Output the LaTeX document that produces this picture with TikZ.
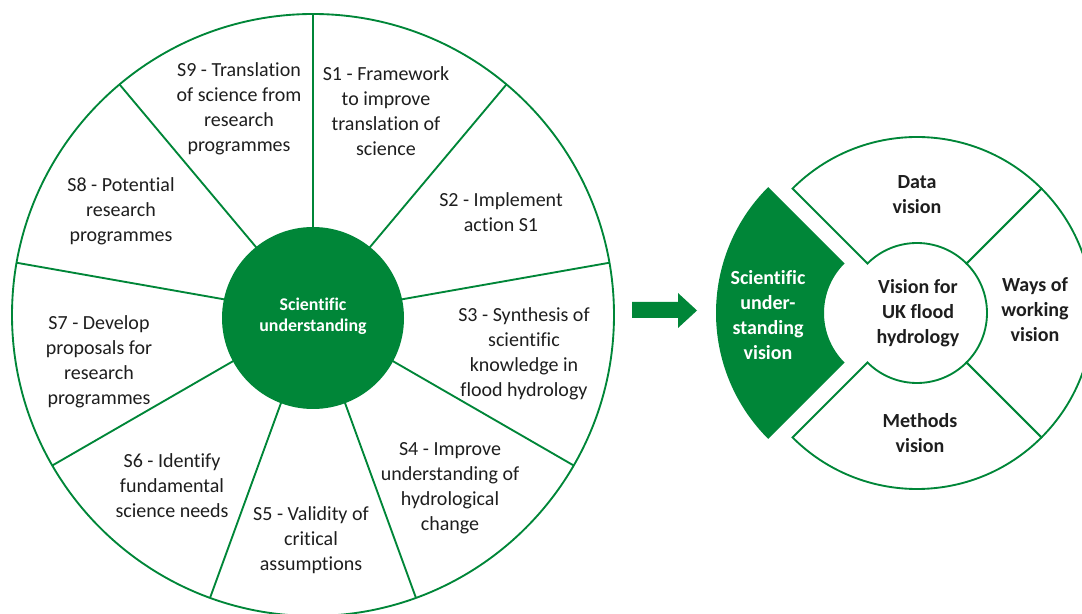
\documentclass[tikz,border=0pt]{standalone}
\usepackage{fontspec}
\setmainfont{Carlito}[Ligatures={NoCommon,NoRare,NoContextual}]
\definecolor{fgreen}{RGB}{0,134,56}
\definecolor{txt}{RGB}{30,30,30}
\begin{document}
\begin{tikzpicture}[x=0.75pt,y=0.75pt,
  wline/.style={draw=fgreen,line width=1.4pt},
  wlabel/.style={align=center,text=txt,inner sep=0pt,font=\fontsize{15}{18.75}\selectfont},
  vlabel/.style={align=center,text=txt,inner sep=0pt,font=\fontsize{15}{18.75}\selectfont\bfseries},
  clabel/.style={align=center,text=white,inner sep=0pt,font=\fontsize{13.4}{16}\selectfont\bfseries}]
\useasboundingbox (0,0) rectangle (1082,614);
\clip (0,0) rectangle (1082,614);
% ---------- left wheel ----------
\coordinate (W) at (313,299);
\foreach \a in {90,50,10,-30,-70,-110,-150,170,130}{
  \draw[wline] (W) -- ++(\a:301);
}
\draw[wline] (W) circle[radius=301];
\node[circle,fill=fgreen,minimum size=182pt*0.75,inner sep=0pt] (hub) at (313,296) {};
\node[clabel] (hubt) at (313,297.5) {Scientific\\understanding};
\node[wlabel] (s9) at (239,505.5) {S9 - Translation\\of science from\\research\\programmes};
\node[wlabel] (s1) at (386,502.5) {S1 - Framework\\to improve\\translation of\\science};
\node[wlabel] (s2) at (501,402) {S2 - Implement\\action S1};
\node[wlabel] (s3) at (524,260) {S3 - Synthesis of\\scientific\\knowledge in\\flood hydrology};
\node[wlabel] (s4) at (450,125.5) {S4 - Improve\\understanding of\\hydrological\\change};
\node[wlabel] (s5) at (311,74) {S5 - Validity of\\critical\\assumptions};
\node[wlabel] (s6) at (172,128) {S6 - Identify\\fundamental\\science needs};
\node[wlabel] (s7) at (99,252) {S7 - Develop\\proposals for\\research\\programmes};
\node[wlabel] (s8) at (121,403) {S8 - Potential\\research\\programmes};
% ---------- arrow ----------
\fill[fgreen] (632,312) -- (678,312) -- (678,321) -- (697,303.5) -- (678,286) -- (678,296) -- (632,296) -- cycle;
% ---------- right wheel ----------
\begin{scope}[shift={(917,301)}]
  \foreach \a in {-45,45,225}{
    \draw[wline,fill=white] (\a:70) -- (\a:176) arc[start angle=\a,end angle=\a+90,radius=176]
      -- (\a+90:70) arc[start angle=\a+90,end angle=\a,radius=70] -- cycle;
  }
\end{scope}
\begin{scope}[shift={(894,301)}]
  \fill[fgreen] (135:70) -- (135:178) arc[start angle=135,end angle=225,radius=178]
    -- (225:70) arc[start angle=225,end angle=135,radius=70] -- cycle;
\end{scope}
\node[vlabel] (data) at (917,419) {Data\\vision};
\node[vlabel] (ways) at (1035,304) {Ways of\\working\\vision};
\node[vlabel] (meth) at (920,181) {Methods\\vision};
\node[vlabel] (vis) at (918,301) {Vision for\\UK flood\\hydrology};
\node[vlabel,text=white] (sci) at (768,298.5) {Scientific\\under-\\standing\\vision};
\end{tikzpicture}
\end{document}
